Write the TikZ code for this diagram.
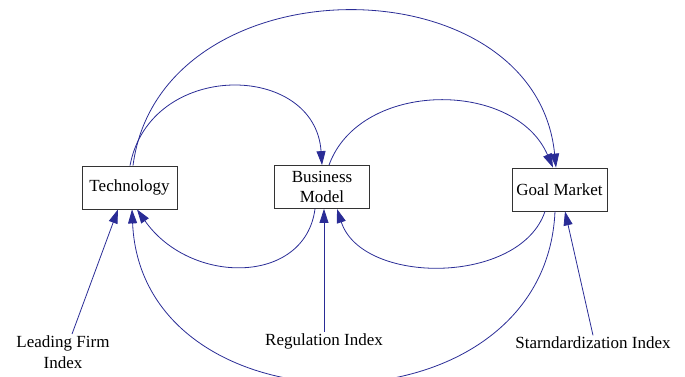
\documentclass[tikz,border=0pt]{standalone}
\usepackage{fontspec}
\setmainfont{Liberation Serif}
\usetikzlibrary{arrows.meta}
\usetikzlibrary{calc}
\usepackage{xcolor}
\definecolor{linkblue}{RGB}{42,44,150}

\begin{document}
\begin{tikzpicture}[x=1pt,y=-1pt,
    font=\fontsize{17}{20.5}\selectfont,
    box/.style={draw=black!80, line width=0.8pt, fill=white, minimum width=95pt, minimum height=43pt, inner sep=2pt, align=center},
    index/.style={inner sep=1.5pt, align=center},
    link/.style={draw=linkblue, line width=0.8pt, -{Triangle[length=14pt,width=9pt]}, linkblue}]
      \useasboundingbox (0,0) rectangle (685,377);

      % Boxes
      \node[box] (tech) at (129.5,187.5) {Technology};
      \node[box] (biz) at (322,187) {Business\\Model};
      \node[box] (goal) at (559.5,189.5) {Goal Market};

      % Indices
      \node[index] (lead) at (63,352) {Leading Firm\\Index};
      \node[index] (reg) at (324,341) {Regulation Index};
      \node[index] (stand) at (593,343) {Starndardization Index};

      % Arcs over the boxes
      \draw[link] ([xshift=0.5pt]tech.north) .. controls +(20,-106) and +(-7,-103.5) .. (biz.north);
      \draw[link] ([xshift=3.5pt]tech.north) .. controls +(27,-206) and +(-21,-208) .. ([xshift=-3.5pt]goal.north);
      \draw[link] ([xshift=7pt]biz.north) .. controls +(31,-85.5) and +(-38,-88) .. ([xshift=-6.5pt]goal.north);

      % Arcs under the boxes
      \draw[link] ([xshift=-7pt]biz.south) .. controls +(-10,76.5) and +(53,76) .. ([xshift=7.5pt]tech.south);
      \draw[link] ([xshift=-14.5pt]goal.south) .. controls +(-25,74) and +(25,76.5) .. ([xshift=15pt]biz.south);
      \draw[link] ([xshift=-4.5pt]goal.south) .. controls +(-10,227) and +(10,229) .. ([xshift=2.5pt]tech.south);

      % Index arrows
      \draw[link] ([xshift=9pt]lead.north) -- ([xshift=-11.5pt]tech.south);
      \draw[link] (reg.north) -- (reg.north |- biz.south);
      \draw[link] (stand.north) -- ([xshift=5.5pt]goal.south);
  \end{tikzpicture}
\end{document}
